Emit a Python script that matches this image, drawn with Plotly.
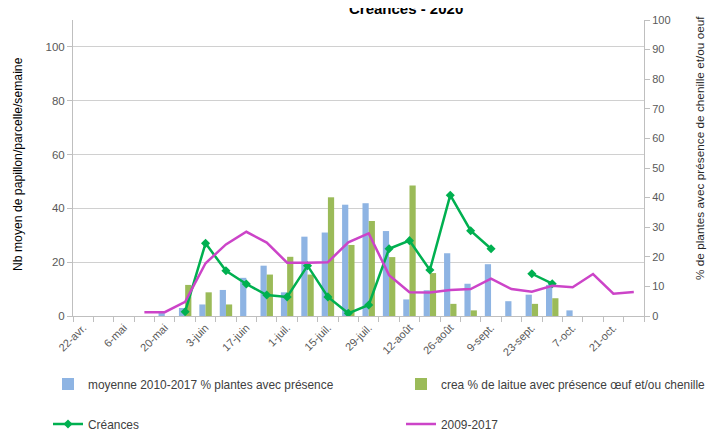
import plotly.graph_objects as go

weeks = ["22-avr.", "29-avr.", "6-mai", "13-mai", "20-mai", "27-mai", "3-juin", "10-juin",
         "17-juin", "24-juin", "1-juil.", "8-juil.", "15-juil.", "22-juil.", "29-juil.",
         "5-août", "12-août", "19-août", "26-août", "2-sept.", "9-sept.", "16-sept.",
         "23-sept.", "30-sept.", "7-oct.", "14-oct.", "21-oct.", "28-oct."]

moyenne_pct = [None, None, None, None, 1.3, 2.7, 3.9, 8.8, 12.9, 17.0, 8.0, 26.8, 28.2, 37.6,
               38.1, 28.7, 5.6, 8.7, 21.2, 10.9, 17.5, 5.0, 7.2, 10.5, 1.9, None, None, None]

crea_pct = [None, None, None, None, None, 10.5, 8.0, 3.9, None, 14.0, 20.0, 14.0, 40.1, 24.0,
            32.1, 19.9, 44.1, 14.5, 4.1, 1.9, None, None, 4.1, 6.0, None, None, None, None]

creances = [None, None, None, None, None, 1.6, 27.0, 16.8, 11.9, 7.8, 7.1, 18.7, 7.1, 1.0,
            4.1, 25.0, 28.0, 17.1, 44.9, 31.7, 25.0, None, 15.7, 12.0, None, None, None, None]

moy_2009_2017 = [None, None, None, 1.4, 1.4, 5.3, 19.6, 26.6, 31.3, 27.3, 19.8, 19.8, 20.0,
                 27.4, 30.7, 15.2, 8.8, 8.7, 9.7, 10.0, 13.9, 10.0, 9.0, 11.2, 10.7, 15.6,
                 8.3, 8.9]

tick_text = [w if i % 2 == 0 else "" for i, w in enumerate(weeks)]

FONT = "Liberation Sans"
TICK_COL = "#595959"
AX_COL = "#bfbfbf"

# the page body adds an 8 px offset; the figure is sized to fill the rest of the window
OFF = 8
W, H = 717 - OFF, 431 - OFF
L, T = 73 - OFF, 20 - OFF
R = W - (644 - OFF)
B = H - (316 - OFF)
pw, ph = W - L - R, H - T - B


def px_x(x):
    return (x - L) / pw


def px_y(y):
    return (H - B - y) / ph


def leg(xpx, ypx):
    return dict(orientation="h", xref="container", yref="container",
                x=xpx / W, y=1 - ypx / H, xanchor="left", yanchor="middle",
                itemwidth=30, font=dict(size=11.9, color="#404040", family=FONT),
                bgcolor="rgba(0,0,0,0)")


fig = go.Figure()
fig.add_trace(go.Bar(x=weeks, y=moyenne_pct, name="moyenne 2010-2017 % plantes avec présence",
                     marker=dict(color="#8eb4e3", line=dict(width=0)), yaxis="y", legend="legend"))
fig.add_trace(go.Bar(x=weeks, y=crea_pct, name="crea % de laitue avec présence œuf et/ou chenille",
                     marker=dict(color="#9bbb59", line=dict(width=0)), yaxis="y", legend="legend2"))
fig.add_trace(go.Scatter(x=weeks, y=creances, name="Créances", mode="lines+markers",
                         line=dict(color="#00b050", width=2.5),
                         marker=dict(symbol="diamond", size=7, color="#00b050"),
                         yaxis="y2", legend="legend3"))
fig.add_trace(go.Scatter(x=weeks, y=moy_2009_2017, name="2009-2017", mode="lines",
                         line=dict(color="#cc44c8", width=2.5),
                         yaxis="y2", legend="legend4"))

fig.update_layout(
    width=W, height=H,
    margin=dict(l=L, r=R, t=T, b=B, autoexpand=False),
    paper_bgcolor="white", plot_bgcolor="white",
    font=dict(family=FONT, size=11, color=TICK_COL),
    barmode="group", bargap=0.39, bargroupgap=0,
    showlegend=True,
    xaxis=dict(type="category", tickmode="array", tickvals=weeks, ticktext=tick_text,
               tickangle=-45, tickson="boundaries", ticks="outside", ticklen=5,
               tickcolor=AX_COL, showline=True, linecolor=AX_COL, linewidth=1,
               showgrid=False, tickfont=dict(size=11, color=TICK_COL),
               range=[-0.5, len(weeks) - 0.5], automargin=False),
    yaxis=dict(side="right", range=[0, 100], dtick=10, showgrid=False, showline=True,
               linecolor=AX_COL, ticks="outside", ticklen=5, tickcolor=AX_COL,
               tickfont=dict(size=11, color=TICK_COL), zeroline=False, automargin=False),
    yaxis2=dict(side="left", overlaying="y", range=[0, 110], tickvals=[0, 20, 40, 60, 80, 100],
                showgrid=True, gridcolor="#d0d0d0", gridwidth=1, showline=True,
                linecolor=AX_COL, ticks="outside", ticklen=5, tickcolor=AX_COL,
                tickfont=dict(size=11.5, color=TICK_COL), zeroline=False, automargin=False),
    legend=leg(48 - OFF, 384 - OFF),
    legend2=leg(401 - OFF, 384 - OFF),
    legend3=leg(48 - OFF, 424 - OFF),
    legend4=leg(401 - OFF, 424 - OFF),
    annotations=[
        dict(text="<b>Créances - 2020</b>", xref="paper", yref="paper",
             x=px_x(406 - OFF), y=px_y(19 - OFF), xanchor="center", yanchor="bottom",
             showarrow=False, font=dict(size=15, color="#000000", family=FONT)),
        dict(text="Nb moyen de papillon/parcelle/semaine", xref="paper", yref="paper",
             x=px_x(18 - OFF), y=px_y(164 - OFF), xanchor="center", yanchor="middle",
             textangle=-90, showarrow=False,
             font=dict(size=12.2, color="#000000", family=FONT)),
        dict(text="% de plantes avec présence de chenille et/ou oeuf", xref="paper",
             yref="paper", x=px_x(700 - OFF), y=px_y(148 - OFF), xanchor="center",
             yanchor="middle", textangle=-90, showarrow=False,
             font=dict(size=11.8, color="#262626", family=FONT)),
    ],
)

fig.write_html("out.html")
